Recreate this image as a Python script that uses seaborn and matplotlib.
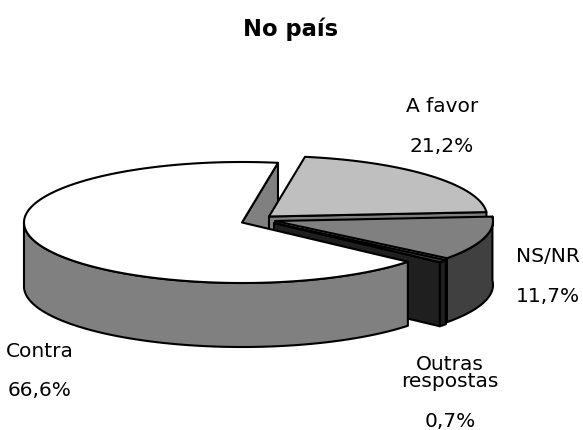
import numpy as np
import matplotlib
matplotlib.use("Agg")
import matplotlib.pyplot as plt
import seaborn as sns
from matplotlib.patches import Polygon

title = "No país"
categories = ["A favor", "NS/NR", "Outras\nrespostas", "Contra"]
values = [21.2, 11.7, 0.7, 66.6]
value_labels = ["21,2%", "11,7%", "0,7%", "66,6%"]
top_colors = ["#BFBFBF", "#808080", "#404040", "#FFFFFF"]
side_colors = ["#808080", "#404040", "#1F1F1F", "#808080"]

W, H = 583, 431
RADIUS_PX = 218
SQUASH = 60.5 / 218
DEPTH = 64 / 218
START = 80.5
CENTER = (241, 223.5)
explode_px = [(28, 6), (34, 1.5), (33, -0.5), (1, 0)]
label_px = [(442, 106, 146), (548, 257, 297), (450, 373, 422), (40, 352, 391)]

sns.set_theme(style="white")
plt.rcParams["font.family"] = ["DejaVu Sans"]

fig = plt.figure(figsize=(W / 100, H / 100), dpi=100, facecolor="white")
ax = fig.add_axes([0, 0, 1, 1])
ax.set_xlim(-CENTER[0] / RADIUS_PX, (W - CENTER[0]) / RADIUS_PX)
ax.set_ylim((CENTER[1] - H) / RADIUS_PX, CENTER[1] / RADIUS_PX)
ax.axis("off")


def arc(o, a0, a1, drop=0.0):
    t = np.radians(np.linspace(a0, a1, max(int(abs(a1 - a0)) * 2, 4)))
    return np.column_stack([o[0] + np.cos(t), o[1] + SQUASH * np.sin(t) - drop])


def poly(pts, color, z):
    ax.add_patch(Polygon(pts, closed=True, facecolor=color, edgecolor="black",
                         linewidth=1.5, joinstyle="round", zorder=z))


sweeps = np.array(values) * 3.6
ends = START - np.cumsum(sweeps)
starts = ends + sweeps
origins = [(x / RADIUS_PX, y / RADIUS_PX) for x, y in explode_px]


def wall(i, a, z):
    o = origins[i]
    e = arc(o, a, a + 0.01)[0]
    poly([o, e, (e[0], e[1] - DEPTH), (o[0], o[1] - DEPTH)], side_colors[i], z)


def outer(i, a0, a1, z):
    o = origins[i]
    upper = arc(o, a0, a1)
    lower = arc(o, a0, a1, DEPTH)[::-1]
    poly(np.vstack([upper, lower]), side_colors[i], z)


# Cut face of Contra at the back, visible through the gap
wall(3, START, 1)
# A favor
wall(0, ends[0], 2)
poly(np.vstack([[origins[0]], arc(origins[0], starts[0], ends[0])]), top_colors[0], 3)
# Outras respostas: cut face and outer skin
wall(2, ends[2], 4)
outer(2, starts[2], ends[2], 5)
poly(np.vstack([[origins[2]], arc(origins[2], starts[2], ends[2])]), top_colors[2], 6)
# NS/NR
outer(1, starts[1], ends[1], 7)
poly(np.vstack([[origins[1]], arc(origins[1], starts[1], ends[1])]), top_colors[1], 8)
# Contra: outer skin of the front part, then the white top
contra_start = starts[3]
contra_end = START - 360
outer(3, contra_start, -180, 9)
poly(np.vstack([[origins[3]], arc(origins[3], contra_start, contra_end)]), top_colors[3], 10)

fig.text(291 / W, 1 - 29 / H, title, ha="center", va="center",
         fontsize=16.3, fontweight="bold", color="black")
for cat, val, (x, y1, y2) in zip(categories, value_labels, label_px):
    fig.text(x / W, 1 - y1 / H, cat, ha="center", va="center", fontsize=14.5,
             color="black", linespacing=0.85)
    fig.text(x / W, 1 - y2 / H, val, ha="center", va="center", fontsize=14.5, color="black")

fig.savefig("out.png", dpi=100)
